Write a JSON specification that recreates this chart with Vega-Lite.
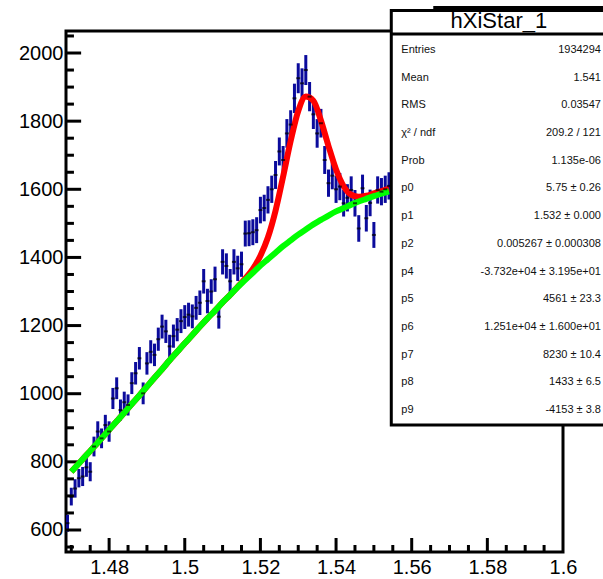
{
  "$schema": "https://vega.github.io/schema/vega-lite/v6.json",
  "width": 497,
  "height": 521,
  "autosize": {"type": "none"},
  "padding": {"left": 66, "top": 31, "right": 40, "bottom": 27},
  "background": "white",
  "config": {
    "view": {"stroke": "black", "strokeWidth": 3},
    "font": "Liberation Sans",
    "axis": {"grid": false, "domain": false}
  },
  "datasets": {
    "hist": [
      {"x": 1.469, "n": 620, "lo": 595, "hi": 645}, {"x": 1.470, "n": 698, "lo": 672, "hi": 724},
      {"x": 1.471, "n": 722, "lo": 695, "hi": 749}, {"x": 1.472, "n": 752, "lo": 725, "hi": 779},
      {"x": 1.473, "n": 757, "lo": 729, "hi": 785}, {"x": 1.474, "n": 784, "lo": 756, "hi": 812},
      {"x": 1.475, "n": 771, "lo": 743, "hi": 799}, {"x": 1.476, "n": 845, "lo": 816, "hi": 874},
      {"x": 1.477, "n": 889, "lo": 859, "hi": 919}, {"x": 1.478, "n": 869, "lo": 840, "hi": 898},
      {"x": 1.479, "n": 908, "lo": 878, "hi": 938}, {"x": 1.480, "n": 889, "lo": 859, "hi": 919},
      {"x": 1.481, "n": 986, "lo": 955, "hi": 1017}, {"x": 1.482, "n": 1016, "lo": 984, "hi": 1048},
      {"x": 1.483, "n": 952, "lo": 921, "hi": 983}, {"x": 1.484, "n": 975, "lo": 944, "hi": 1006},
      {"x": 1.485, "n": 967, "lo": 936, "hi": 998}, {"x": 1.486, "n": 1031, "lo": 999, "hi": 1063},
      {"x": 1.487, "n": 1060, "lo": 1027, "hi": 1093}, {"x": 1.488, "n": 1104, "lo": 1071, "hi": 1137},
      {"x": 1.489, "n": 1001, "lo": 969, "hi": 1033}, {"x": 1.490, "n": 1089, "lo": 1056, "hi": 1122},
      {"x": 1.491, "n": 1123, "lo": 1089, "hi": 1157}, {"x": 1.492, "n": 1114, "lo": 1081, "hi": 1147},
      {"x": 1.493, "n": 1160, "lo": 1126, "hi": 1194}, {"x": 1.494, "n": 1197, "lo": 1162, "hi": 1232},
      {"x": 1.495, "n": 1183, "lo": 1149, "hi": 1217}, {"x": 1.496, "n": 1139, "lo": 1105, "hi": 1173},
      {"x": 1.497, "n": 1169, "lo": 1135, "hi": 1203}, {"x": 1.498, "n": 1188, "lo": 1154, "hi": 1222},
      {"x": 1.499, "n": 1213, "lo": 1178, "hi": 1248}, {"x": 1.500, "n": 1225, "lo": 1190, "hi": 1260},
      {"x": 1.501, "n": 1232, "lo": 1197, "hi": 1267}, {"x": 1.502, "n": 1227, "lo": 1192, "hi": 1262},
      {"x": 1.503, "n": 1252, "lo": 1217, "hi": 1287}, {"x": 1.504, "n": 1267, "lo": 1231, "hi": 1303},
      {"x": 1.505, "n": 1330, "lo": 1294, "hi": 1366}, {"x": 1.506, "n": 1272, "lo": 1236, "hi": 1308},
      {"x": 1.507, "n": 1300, "lo": 1264, "hi": 1336}, {"x": 1.508, "n": 1336, "lo": 1299, "hi": 1373},
      {"x": 1.509, "n": 1226, "lo": 1191, "hi": 1261}, {"x": 1.510, "n": 1387, "lo": 1350, "hi": 1424},
      {"x": 1.511, "n": 1375, "lo": 1338, "hi": 1412}, {"x": 1.512, "n": 1330, "lo": 1294, "hi": 1366},
      {"x": 1.513, "n": 1387, "lo": 1350, "hi": 1424}, {"x": 1.514, "n": 1368, "lo": 1331, "hi": 1405},
      {"x": 1.515, "n": 1380, "lo": 1343, "hi": 1417}, {"x": 1.516, "n": 1470, "lo": 1432, "hi": 1508},
      {"x": 1.517, "n": 1471, "lo": 1433, "hi": 1509}, {"x": 1.518, "n": 1474, "lo": 1436, "hi": 1512},
      {"x": 1.519, "n": 1480, "lo": 1442, "hi": 1518}, {"x": 1.520, "n": 1539, "lo": 1500, "hi": 1578},
      {"x": 1.521, "n": 1545, "lo": 1506, "hi": 1584}, {"x": 1.522, "n": 1569, "lo": 1529, "hi": 1609},
      {"x": 1.523, "n": 1600, "lo": 1560, "hi": 1640}, {"x": 1.524, "n": 1642, "lo": 1601, "hi": 1683},
      {"x": 1.525, "n": 1711, "lo": 1670, "hi": 1752}, {"x": 1.526, "n": 1686, "lo": 1645, "hi": 1727},
      {"x": 1.527, "n": 1764, "lo": 1722, "hi": 1806}, {"x": 1.528, "n": 1790, "lo": 1748, "hi": 1832},
      {"x": 1.529, "n": 1867, "lo": 1824, "hi": 1910}, {"x": 1.530, "n": 1926, "lo": 1882, "hi": 1970},
      {"x": 1.531, "n": 1911, "lo": 1867, "hi": 1955}, {"x": 1.532, "n": 1950, "lo": 1906, "hi": 1994},
      {"x": 1.533, "n": 1872, "lo": 1829, "hi": 1915}, {"x": 1.534, "n": 1820, "lo": 1777, "hi": 1863},
      {"x": 1.535, "n": 1764, "lo": 1722, "hi": 1806}, {"x": 1.536, "n": 1794, "lo": 1752, "hi": 1836},
      {"x": 1.537, "n": 1686, "lo": 1645, "hi": 1727}, {"x": 1.538, "n": 1618, "lo": 1578, "hi": 1658},
      {"x": 1.539, "n": 1640, "lo": 1600, "hi": 1680}, {"x": 1.540, "n": 1600, "lo": 1560, "hi": 1640},
      {"x": 1.541, "n": 1608, "lo": 1568, "hi": 1648}, {"x": 1.542, "n": 1559, "lo": 1520, "hi": 1598},
      {"x": 1.543, "n": 1575, "lo": 1535, "hi": 1615}, {"x": 1.544, "n": 1598, "lo": 1558, "hi": 1638},
      {"x": 1.545, "n": 1559, "lo": 1520, "hi": 1598}, {"x": 1.546, "n": 1485, "lo": 1446, "hi": 1524},
      {"x": 1.547, "n": 1603, "lo": 1563, "hi": 1643}, {"x": 1.548, "n": 1515, "lo": 1476, "hi": 1554},
      {"x": 1.549, "n": 1560, "lo": 1521, "hi": 1599}, {"x": 1.550, "n": 1466, "lo": 1428, "hi": 1504},
      {"x": 1.551, "n": 1598, "lo": 1558, "hi": 1638}, {"x": 1.552, "n": 1593, "lo": 1553, "hi": 1633},
      {"x": 1.553, "n": 1600, "lo": 1560, "hi": 1640}, {"x": 1.554, "n": 1610, "lo": 1570, "hi": 1650}
    ],
    "fit": [
      {"x": 1.470, "g": 771, "r": 771}, {"x": 1.472, "g": 795, "r": 795}, {"x": 1.474, "g": 820, "r": 820},
      {"x": 1.476, "g": 844, "r": 844}, {"x": 1.478, "g": 869, "r": 869}, {"x": 1.480, "g": 894, "r": 894},
      {"x": 1.482, "g": 919, "r": 919}, {"x": 1.484, "g": 944, "r": 944}, {"x": 1.486, "g": 970, "r": 970},
      {"x": 1.488, "g": 995, "r": 995}, {"x": 1.490, "g": 1021, "r": 1021}, {"x": 1.492, "g": 1047, "r": 1047},
      {"x": 1.494, "g": 1072, "r": 1072}, {"x": 1.496, "g": 1098, "r": 1098}, {"x": 1.498, "g": 1123, "r": 1123},
      {"x": 1.500, "g": 1148, "r": 1148}, {"x": 1.502, "g": 1172, "r": 1172}, {"x": 1.504, "g": 1197, "r": 1197},
      {"x": 1.506, "g": 1221, "r": 1221}, {"x": 1.508, "g": 1244, "r": 1244}, {"x": 1.510, "g": 1268, "r": 1268},
      {"x": 1.512, "g": 1290, "r": 1290}, {"x": 1.514, "g": 1313, "r": 1314}, {"x": 1.516, "g": 1334, "r": 1338},
      {"x": 1.518, "g": 1355, "r": 1366}, {"x": 1.520, "g": 1376, "r": 1405}, {"x": 1.522, "g": 1395, "r": 1459},
      {"x": 1.524, "g": 1414, "r": 1537}, {"x": 1.526, "g": 1433, "r": 1637}, {"x": 1.528, "g": 1450, "r": 1742},
      {"x": 1.530, "g": 1467, "r": 1830}, {"x": 1.532, "g": 1482, "r": 1872}, {"x": 1.534, "g": 1497, "r": 1860},
      {"x": 1.536, "g": 1510, "r": 1802}, {"x": 1.538, "g": 1523, "r": 1727}, {"x": 1.540, "g": 1535, "r": 1658},
      {"x": 1.542, "g": 1545, "r": 1609}, {"x": 1.544, "g": 1555, "r": 1584}, {"x": 1.546, "g": 1564, "r": 1578},
      {"x": 1.548, "g": 1572, "r": 1581}, {"x": 1.550, "g": 1580, "r": 1588}, {"x": 1.552, "g": 1587, "r": 1595},
      {"x": 1.554, "g": 1594, "r": 1602}
    ],
    "ymajor": [{"v": 600}, {"v": 800}, {"v": 1000}, {"v": 1200}, {"v": 1400}, {"v": 1600}, {"v": 1800}, {"v": 2000}],
    "yminor": [{"v": 550}, {"v": 650}, {"v": 700}, {"v": 750}, {"v": 850}, {"v": 900}, {"v": 950}, {"v": 1050}, {"v": 1100}, {"v": 1150}, {"v": 1250}, {"v": 1300}, {"v": 1350}, {"v": 1450}, {"v": 1500}, {"v": 1550}, {"v": 1650}, {"v": 1700}, {"v": 1750}, {"v": 1850}, {"v": 1900}, {"v": 1950}, {"v": 2050}],
    "xmajor": [{"v": 1.48}, {"v": 1.5}, {"v": 1.52}, {"v": 1.54}, {"v": 1.56}, {"v": 1.58}],
    "xminor": [{"v": 1.47}, {"v": 1.475}, {"v": 1.485}, {"v": 1.49}, {"v": 1.495}, {"v": 1.505}, {"v": 1.51}, {"v": 1.515}, {"v": 1.525}, {"v": 1.53}, {"v": 1.535}, {"v": 1.545}, {"v": 1.55}, {"v": 1.555}, {"v": 1.565}, {"v": 1.57}, {"v": 1.575}, {"v": 1.585}, {"v": 1.59}, {"v": 1.595}],
    "stats": [
      {"k": "Entries", "v": "1934294"},
      {"k": "Mean", "v": "1.541"},
      {"k": "RMS", "v": "0.03547"},
      {"k": "χ² / ndf", "v": "209.2 / 121"},
      {"k": "Prob", "v": "1.135e-06"},
      {"k": "p0", "v": "5.75 ± 0.26"},
      {"k": "p1", "v": "1.532 ± 0.000"},
      {"k": "p2", "v": "0.005267 ± 0.000308"},
      {"k": "p4", "v": "-3.732e+04 ± 3.195e+01"},
      {"k": "p5", "v": "4561 ± 23.3"},
      {"k": "p6", "v": "1.251e+04 ± 1.600e+01"},
      {"k": "p7", "v": "8230 ± 10.4"},
      {"k": "p8", "v": "1433 ± 6.5"},
      {"k": "p9", "v": "-4153 ± 3.8"}
    ]
  },
  "resolve": {"scale": {"y": "independent"}, "axis": {"x": "independent", "y": "independent"}},
  "layer": [
    {
      "data": {"name": "hist"},
      "mark": {"type": "rule", "color": "#0b0b9c", "strokeWidth": 3},
      "encoding": {
        "x": {"field": "x", "type": "quantitative", "scale": {"domain": [1.4686, 1.6], "nice": false, "zero": false},
          "axis": {"orient": "bottom", "title": null, "values": [1.48, 1.5, 1.52, 1.54, 1.56, 1.58, 1.6], "format": "~g", "ticks": false,
            "labelFontSize": 20, "labelPadding": 5, "labelColor": "black", "labelFont": "Liberation Sans", "labelFlush": false, "labelOverlap": false}},
        "y": {"field": "lo", "type": "quantitative", "scale": {"domain": [535.4, 2064.6], "nice": false, "zero": false},
          "axis": {"orient": "left", "title": null, "values": [600, 800, 1000, 1200, 1400, 1600, 1800, 2000], "format": "d", "ticks": false,
            "labelFontSize": 20, "labelPadding": 3, "labelColor": "black", "labelFont": "Liberation Sans", "labelFlush": false, "labelOverlap": false}},
        "y2": {"field": "hi"}
      }
    },
    {
      "data": {"name": "ymajor"},
      "mark": {"type": "rule", "color": "black", "strokeWidth": 3},
      "encoding": {
        "x": {"datum": 1.4686, "type": "quantitative", "scale": {"domain": [1.4686, 1.6], "nice": false, "zero": false}, "axis": null},
        "x2": {"datum": 1.4726},
        "y": {"field": "v", "type": "quantitative", "scale": {"domain": [535.4, 2064.6], "nice": false, "zero": false}, "axis": null}
      }
    },
    {
      "data": {"name": "yminor"},
      "mark": {"type": "rule", "color": "black", "strokeWidth": 3},
      "encoding": {
        "x": {"datum": 1.4686, "type": "quantitative", "scale": {"domain": [1.4686, 1.6], "nice": false, "zero": false}, "axis": null},
        "x2": {"datum": 1.4707},
        "y": {"field": "v", "type": "quantitative", "scale": {"domain": [535.4, 2064.6], "nice": false, "zero": false}, "axis": null}
      }
    },
    {
      "data": {"name": "xmajor"},
      "mark": {"type": "rule", "color": "black", "strokeWidth": 3},
      "encoding": {
        "x": {"field": "v", "type": "quantitative", "scale": {"domain": [1.4686, 1.6], "nice": false, "zero": false}, "axis": null},
        "y": {"datum": 535.4, "type": "quantitative", "scale": {"domain": [535.4, 2064.6], "nice": false, "zero": false}, "axis": null},
        "y2": {"datum": 576.5}
      }
    },
    {
      "data": {"name": "xminor"},
      "mark": {"type": "rule", "color": "black", "strokeWidth": 3},
      "encoding": {
        "x": {"field": "v", "type": "quantitative", "scale": {"domain": [1.4686, 1.6], "nice": false, "zero": false}, "axis": null},
        "y": {"datum": 535.4, "type": "quantitative", "scale": {"domain": [535.4, 2064.6], "nice": false, "zero": false}, "axis": null},
        "y2": {"datum": 556.0}
      }
    },
    {
      "data": {"name": "fit"},
      "mark": {"type": "line", "color": "#ff0000", "strokeWidth": 6, "interpolate": "monotone", "strokeCap": "butt"},
      "encoding": {
        "x": {"field": "x", "type": "quantitative", "scale": {"domain": [1.4686, 1.6], "nice": false, "zero": false}, "axis": null},
        "y": {"field": "r", "type": "quantitative", "scale": {"domain": [535.4, 2064.6], "nice": false, "zero": false}, "axis": null}
      }
    },
    {
      "data": {"name": "fit"},
      "mark": {"type": "line", "color": "#00ff00", "strokeWidth": 6, "interpolate": "monotone", "strokeCap": "butt"},
      "encoding": {
        "x": {"field": "x", "type": "quantitative", "scale": {"domain": [1.4686, 1.6], "nice": false, "zero": false}, "axis": null},
        "y": {"field": "g", "type": "quantitative", "scale": {"domain": [535.4, 2064.6], "nice": false, "zero": false}, "axis": null}
      }
    },
    {
      "data": {"name": "hist"},
      "mark": {"type": "tick", "orient": "horizontal", "size": 4, "thickness": 2, "color": "black"},
      "encoding": {
        "x": {"field": "x", "type": "quantitative", "scale": {"domain": [1.4686, 1.6], "nice": false, "zero": false}, "axis": null},
        "y": {"field": "n", "type": "quantitative", "scale": {"domain": [535.4, 2064.6], "nice": false, "zero": false}, "axis": null}
      }
    },
    {
      "data": {"values": [{}]},
      "mark": {"type": "rule", "color": "black", "strokeWidth": 3},
      "encoding": {
        "x": {"datum": 1.5657, "type": "quantitative", "scale": {"domain": [1.4686, 1.6], "nice": false, "zero": false}, "axis": null},
        "x2": {"datum": 1.63},
        "y": {"datum": 2133.6, "type": "quantitative", "scale": {"domain": [535.4, 2064.6], "nice": false, "zero": false}, "axis": null}
      }
    },
    {
      "data": {"values": [{}]},
      "mark": {"type": "rect", "fill": "white", "stroke": "black", "strokeWidth": 3},
      "encoding": {
        "x": {"datum": 1.5546, "type": "quantitative", "scale": {"domain": [1.4686, 1.6], "nice": false, "zero": false}, "axis": null},
        "x2": {"datum": 1.63},
        "y": {"datum": 2124.8, "type": "quantitative", "scale": {"domain": [535.4, 2064.6], "nice": false, "zero": false}, "axis": null},
        "y2": {"datum": 908.2}
      }
    },
    {
      "data": {"values": [{}]},
      "mark": {"type": "rule", "color": "black", "strokeWidth": 3},
      "encoding": {
        "x": {"datum": 1.5546, "type": "quantitative", "scale": {"domain": [1.4686, 1.6], "nice": false, "zero": false}, "axis": null},
        "x2": {"datum": 1.63},
        "y": {"datum": 2055.8, "type": "quantitative", "scale": {"domain": [535.4, 2064.6], "nice": false, "zero": false}, "axis": null}
      }
    },
    {
      "data": {"values": [{"t": "hXiStar_1"}]},
      "mark": {"type": "text", "fontSize": 22, "align": "center", "baseline": "alphabetic", "color": "black", "font": "Liberation Sans"},
      "encoding": {
        "x": {"datum": 1.58305, "type": "quantitative", "scale": {"domain": [1.4686, 1.6], "nice": false, "zero": false}, "axis": null},
        "y": {"datum": 2073.4, "type": "quantitative", "scale": {"domain": [535.4, 2064.6], "nice": false, "zero": false}, "axis": null},
        "text": {"field": "t"}
      }
    },
    {
      "data": {"name": "stats"},
      "mark": {"type": "text", "fontSize": 11, "align": "left", "baseline": "middle", "color": "#111111", "font": "Liberation Sans"},
      "encoding": {
        "x": {"datum": 1.55725, "type": "quantitative", "scale": {"domain": [1.4686, 1.6], "nice": false, "zero": false}, "axis": null},
        "y": {"field": "k", "type": "ordinal", "sort": null, "scale": {"type": "point", "range": [19, 379], "padding": 0}, "axis": null},
        "text": {"field": "k"}
      }
    },
    {
      "data": {"name": "stats"},
      "mark": {"type": "text", "fontSize": 11, "align": "right", "baseline": "middle", "color": "#111111", "font": "Liberation Sans"},
      "encoding": {
        "x": {"datum": 1.61004, "type": "quantitative", "scale": {"domain": [1.4686, 1.6], "nice": false, "zero": false}, "axis": null},
        "y": {"field": "k", "type": "ordinal", "sort": null, "scale": {"type": "point", "range": [19, 379], "padding": 0}, "axis": null},
        "text": {"field": "v"}
      }
    }
  ]
}
